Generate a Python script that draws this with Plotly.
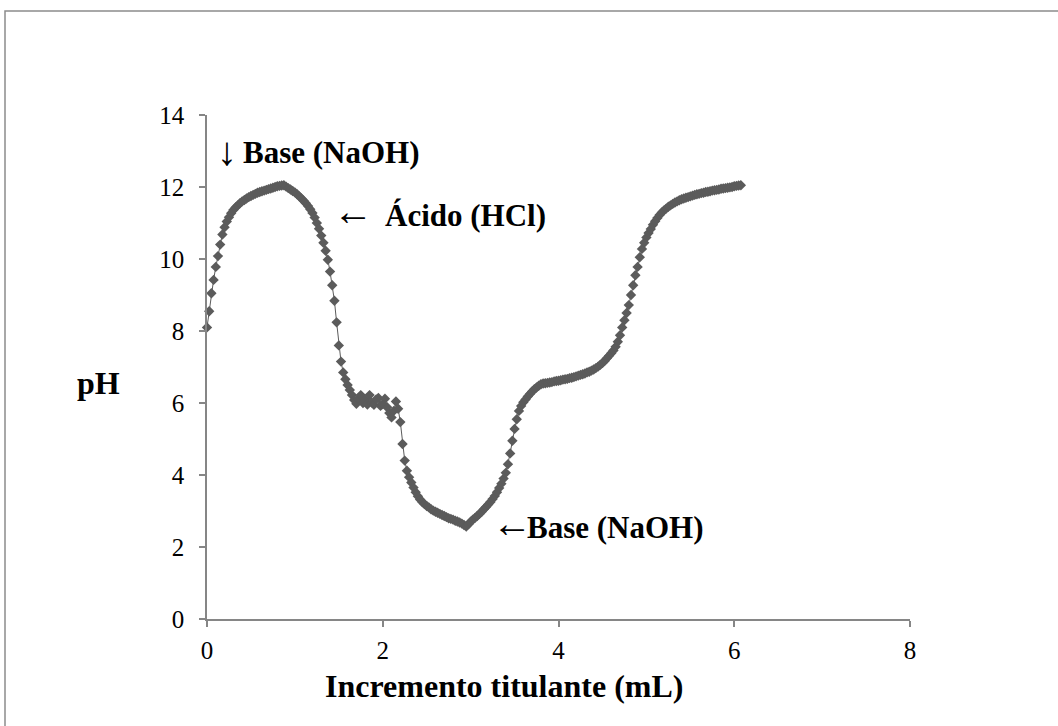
import plotly.graph_objects as go

# Volume of titrant added (mL)
volume_ml = [
    0.000, 0.025, 0.050, 0.075, 0.100, 0.125, 0.150, 0.175, 0.200, 0.225,
    0.250, 0.275, 0.300, 0.325, 0.350, 0.375, 0.400, 0.425, 0.450, 0.475,
    0.500, 0.525, 0.550, 0.575, 0.600, 0.625, 0.650, 0.675, 0.700, 0.725,
    0.750, 0.775, 0.800, 0.825, 0.850, 0.875, 0.900, 0.925, 0.950, 0.975,
    1.000, 1.025, 1.050, 1.075, 1.100, 1.125, 1.150, 1.175, 1.200, 1.225,
    1.250, 1.275, 1.300, 1.325, 1.350, 1.375, 1.400, 1.425, 1.450, 1.475,
    1.500, 1.525, 1.550, 1.575, 1.600, 1.625, 1.650, 1.675, 1.700, 1.725,
    1.750, 1.775, 1.800, 1.825, 1.850, 1.875, 1.900, 1.925, 1.950, 1.975,
    2.000, 2.025, 2.050, 2.075, 2.100, 2.125, 2.150, 2.175, 2.200, 2.225,
    2.250, 2.275, 2.300, 2.325, 2.350, 2.375, 2.400, 2.425, 2.450, 2.475,
    2.500, 2.525, 2.550, 2.575, 2.600, 2.625, 2.650, 2.675, 2.700, 2.725,
    2.750, 2.775, 2.800, 2.825, 2.850, 2.875, 2.900, 2.925, 2.950, 2.975,
    3.000, 3.025, 3.050, 3.075, 3.100, 3.125, 3.150, 3.175, 3.200, 3.225,
    3.250, 3.275, 3.300, 3.325, 3.350, 3.375, 3.400, 3.425, 3.450, 3.475,
    3.500, 3.525, 3.550, 3.575, 3.600, 3.625, 3.650, 3.675, 3.700, 3.725,
    3.750, 3.775, 3.800, 3.825, 3.850, 3.875, 3.900, 3.925, 3.950, 3.975,
    4.000, 4.025, 4.050, 4.075, 4.100, 4.125, 4.150, 4.175, 4.200, 4.225,
    4.250, 4.275, 4.300, 4.325, 4.350, 4.375, 4.400, 4.425, 4.450, 4.475,
    4.500, 4.525, 4.550, 4.575, 4.600, 4.625, 4.650, 4.675, 4.700, 4.725,
    4.750, 4.775, 4.800, 4.825, 4.850, 4.875, 4.900, 4.925, 4.950, 4.975,
    5.000, 5.025, 5.050, 5.075, 5.100, 5.125, 5.150, 5.175, 5.200, 5.225,
    5.250, 5.275, 5.300, 5.325, 5.350, 5.375, 5.400, 5.425, 5.450, 5.475,
    5.500, 5.525, 5.550, 5.575, 5.600, 5.625, 5.650, 5.675, 5.700, 5.725,
    5.750, 5.775, 5.800, 5.825, 5.850, 5.875, 5.900, 5.925, 5.950, 5.975,
    6.000, 6.025, 6.050, 6.075,
]

# Measured pH after each addition
ph = [
    8.10, 8.55, 9.05, 9.42, 9.78, 10.08, 10.40, 10.68, 10.88, 11.04,
    11.16, 11.27, 11.36, 11.43, 11.49, 11.55, 11.60, 11.64, 11.68, 11.72,
    11.75, 11.78, 11.81, 11.84, 11.86, 11.88, 11.90, 11.92, 11.94, 11.96,
    11.98, 12.00, 12.02, 12.03, 12.04, 12.05, 12.01, 11.97, 11.93, 11.89,
    11.85, 11.80, 11.74, 11.68, 11.62, 11.55, 11.47, 11.38, 11.28, 11.15,
    11.00, 10.84, 10.65, 10.45, 10.23, 9.98, 9.65, 9.27, 8.84, 8.24,
    7.60, 7.15, 6.85, 6.66, 6.50, 6.36, 6.22, 6.08, 5.98, 6.12,
    6.22, 6.00, 6.08, 5.96, 6.22, 6.01, 5.95, 6.10, 6.14, 5.92,
    5.97, 6.12, 5.88, 5.72, 5.60, 5.78, 6.04, 5.84, 5.47, 4.86,
    4.40, 4.12, 3.94, 3.79, 3.65, 3.52, 3.41, 3.32, 3.25, 3.19,
    3.14, 3.10, 3.05, 3.01, 2.98, 2.95, 2.92, 2.89, 2.86, 2.83,
    2.80, 2.78, 2.76, 2.73, 2.71, 2.68, 2.65, 2.61, 2.57, 2.63,
    2.70, 2.76, 2.81, 2.86, 2.92, 2.98, 3.05, 3.11, 3.18, 3.25,
    3.33, 3.42, 3.52, 3.64, 3.76, 3.90, 4.06, 4.30, 4.60, 4.95,
    5.28, 5.55, 5.78, 5.92, 6.02, 6.10, 6.18, 6.25, 6.32, 6.38,
    6.43, 6.48, 6.52, 6.54, 6.55, 6.56, 6.57, 6.58, 6.60, 6.61,
    6.62, 6.63, 6.65, 6.66, 6.67, 6.69, 6.70, 6.72, 6.74, 6.76,
    6.78, 6.80, 6.82, 6.85, 6.87, 6.90, 6.93, 6.97, 7.01, 7.06,
    7.11, 7.17, 7.24, 7.31, 7.38, 7.46, 7.56, 7.70, 7.88, 8.10,
    8.30, 8.50, 8.72, 9.00, 9.27, 9.55, 9.78, 10.05, 10.28, 10.45,
    10.60, 10.72, 10.83, 10.95, 11.05, 11.14, 11.22, 11.29, 11.35, 11.40,
    11.45, 11.49, 11.53, 11.57, 11.60, 11.63, 11.66, 11.68, 11.70, 11.72,
    11.74, 11.76, 11.78, 11.80, 11.81, 11.83, 11.84, 11.86, 11.87, 11.88,
    11.90, 11.91, 11.92, 11.93, 11.95, 11.96, 11.97, 11.98, 11.99, 12.00,
    12.02, 12.03, 12.04, 12.05,
]

x_ticks = [0, 2, 4, 6, 8]
y_ticks = [0, 2, 4, 6, 8, 10, 12, 14]

SERIF = "Liberation Serif, Times New Roman, serif"
AXIS_GREY = "#868686"
SERIES_GREY = "#5b5b5b"

W, H = 1058, 726
L, R, T, B = 207, 148, 115, 107
plot_w = W - L - R
plot_h = H - T - B


def px_to_paper(px, py):
    return (px - L) / plot_w, (H - B - py) / plot_h


fig = go.Figure()
fig.add_trace(go.Scatter(
    x=volume_ml, y=ph,
    mode="lines+markers",
    line=dict(color=SERIES_GREY, width=1),
    marker=dict(symbol="diamond", size=8, color=SERIES_GREY, line=dict(width=0)),
    cliponaxis=False,
    showlegend=False,
))

annotations = []

# axis titles
title_font = dict(family=SERIF, size=32, color="black")
tx, ty = px_to_paper(504, 686)
annotations.append(dict(x=tx, y=ty, xref="paper", yref="paper",
                        text="<b>Incremento titulante (mL)</b>", showarrow=False,
                        font=title_font, xanchor="center", yanchor="middle"))
tx, ty = px_to_paper(98, 383)
annotations.append(dict(x=tx, y=ty, xref="paper", yref="paper",
                        text="<b>pH</b>", showarrow=False,
                        font=title_font, xanchor="center", yanchor="middle"))

# labels on the curve: thin arrows plus bold reagent names
label_font = dict(family=SERIF, size=31, color="black")
arrow_font = dict(family=SERIF, size=40, color="black")


def label(x, y, text, font, anchor="left"):
    annotations.append(dict(x=x, y=y, xref="x", yref="y", text=text,
                            showarrow=False, font=font,
                            xanchor=anchor, yanchor="middle"))


label(0.23, 12.98, "↓", arrow_font, "center")
label(0.39, 12.95, "<b>Base (NaOH)</b>", label_font)
label(1.66, 11.32, "←", arrow_font, "center")
label(2.0, 11.22, "<b>Ácido (HCl)</b>", label_font)
label(3.47, 2.64, "←", arrow_font, "center")
label(3.62, 2.54, "<b>Base (NaOH)</b>", label_font)

# outer frame around the chart
fx0, fy0 = px_to_paper(5, 760)
fx1, fy1 = px_to_paper(1090, 11)
shapes = [dict(type="rect", xref="paper", yref="paper",
               x0=fx0, y0=fy0, x1=fx1, y1=fy1,
               line=dict(color="#8c8c8c", width=1.5), fillcolor="rgba(0,0,0,0)",
               layer="below")]

axis_common = dict(
    showgrid=False, zeroline=False, showline=True,
    linecolor=AXIS_GREY, linewidth=1.5,
    ticks="outside", ticklen=6, tickcolor=AXIS_GREY, tickwidth=1.5,
    tickfont=dict(family=SERIF, size=25, color="black"),
)

fig.update_layout(
    width=W, height=H,
    margin=dict(l=L, r=R, t=T, b=B, pad=0),
    paper_bgcolor="white", plot_bgcolor="white",
    xaxis=dict(range=[0, 8], tickvals=x_ticks, ticktext=[str(v) for v in x_ticks],
               ticklabelstandoff=2, **axis_common),
    yaxis=dict(range=[0, 14], tickvals=y_ticks, ticktext=[str(v) for v in y_ticks],
               ticklabelstandoff=10, **axis_common),
    annotations=annotations,
    shapes=shapes,
)

fig.write_html("out.html")
